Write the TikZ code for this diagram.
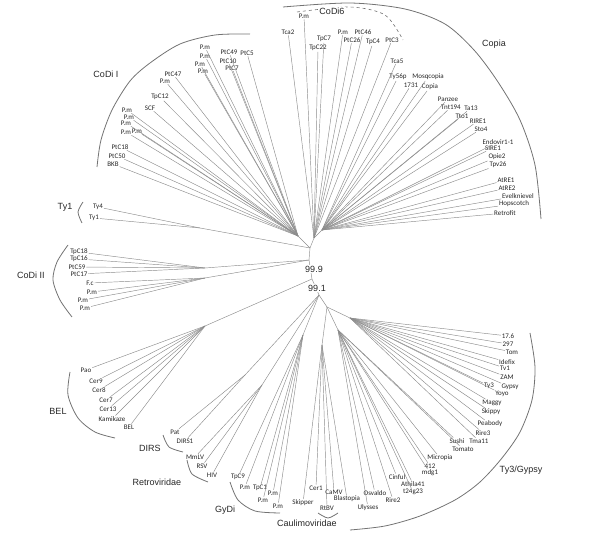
\documentclass[tikz,border=0pt]{standalone}
\usepackage{fontspec}
\setmainfont{Carlito}
\newfontfamily\cladefont{Liberation Sans}
\begin{document}
\begin{tikzpicture}[x=1pt,y=-1pt,
  leaf/.style={font=\fontsize{7}{8}\selectfont, inner sep=0.8pt, text=black!85},
  br/.style={draw=black!45, line width=0.45pt},
  clade/.style={font=\cladefont\fontsize{9}{10}\selectfont, inner sep=1pt, text=black!85},
  arcline/.style={draw=black!55, line width=0.8pt},
  boot/.style={font=\cladefont\fontsize{9}{10}\selectfont, fill=white, inner sep=0.5pt, text=black!85}]
\useasboundingbox (0,0) rectangle (600,534);
% backbone and hubs
\coordinate (N1) at (310,248);
\coordinate (N2) at (309,260);
\coordinate (N3) at (312,279);
\coordinate (N4) at (319,295);
\coordinate (N5) at (327,307);
\coordinate (h6) at (314,238);
\coordinate (hc) at (322,230);
\coordinate (h1) at (298,236);
\coordinate (ht) at (200,228);
\coordinate (hd1) at (205,268);
\coordinate (hd2) at (205,278);
\coordinate (hb) at (205,326);
\coordinate (hf) at (245,375);
\coordinate (hg) at (262,385);
\coordinate (hk) at (303,335);
\coordinate (hm) at (322,345);
\coordinate (h3) at (350,318);
\coordinate (h3b) at (338,330);
% leaves
\foreach \n/\x/\y/\t in {a1/304/16/P.m, a2/288/32/Tca2, a3/324/39/TpC7, a4/318/48/TpC22, a5/343/32/P.m, a6/363/32/PtC46, a7/352/40/PtC26, a8/373/42/TpC4, a9/392/40/PtC3}
  {\node[leaf] (\n) at (\x,\y) {\t};}
\foreach \n/\x/\y/\t in {b1/397/61/Tca5, b2/398/77/Ty56p, b3/428/77/Mosqcopia, b4/411/85/1731, b5/430/87/Copia, b6/448/99/Panzee, b7/451/107/Tnt194, b8/471/108/Ta13, b9/462/116/Tto1, b10/478/121/RIRE1, b11/481/129/Sto4, b12/498/142/Endovir1-1, b13/493/148/SIRE1, b14/497/157/Opie2, b15/498/165/Tpv26, b16/506/180/AtRE1, b17/507/188/AtRE2, b18/518/196/Evelknievel, b19/514/204/Hopscotch, b20/505/213/Retrofit}
  {\node[leaf] (\n) at (\x,\y) {\t};}
\foreach \n/\x/\y/\t in {c1/205/47/P.m, c2/205/56/P.m, c3/200/64/P.m, c4/203/71/P.m, c5/229/52/PtC49, c6/228/61/PtC10, c7/232/68/PtC7, c8/247/53/PtC5, c9/173/74/PtC47, c10/165/81/P.m, c11/160/97/TpC12, c12/150/108/SCF, c13/127/110/P.m, c14/129/117/P.m, c15/126/123/P.m, c16/126/132/P.m, c17/137/131/P.m, c18/120/147/PtC18, c19/117/156/PtC50, c20/113/164/BKB}
  {\node[leaf] (\n) at (\x,\y) {\t};}
\foreach \n/\x/\y/\t in {t1/98/207/Ty4, t2/94/218/Ty1, d1/79/252/TpC18, d2/79/259/TpC16, d3/77/267/PtC59, d4/79/274/PtC17, d5/90/283/F.c, d6/92/292/P.m, d7/83/300/P.m, d8/85/308/P.m}
  {\node[leaf] (\n) at (\x,\y) {\t};}
\foreach \n/\x/\y/\t in {e1/86/370/Pao, e2/96/381/Cer9, e3/99/390/Cer8, e4/106/400/Cer7, e5/108/409/Cer13, e6/112/419/Kamikaze, e7/129/427/BEL, f1/175/432/Pat, f2/185/441/DIRS1, g1/195/457/MmLV, g2/202/466/RSV, g3/212/475/HIV}
  {\node[leaf] (\n) at (\x,\y) {\t};}
\foreach \n/\x/\y/\t in {k1/238/477/TpC9, k2/245/487/P.m, k3/260/488/TpC1, k4/273/493/P.m, k5/263/500/P.m, k6/278/506/P.m, m1/303/503/Skipper, m2/316/488/Cer1, m3/334/492/CaMV, m4/347/499/Blastopia, m5/327/508/RtBV}
  {\node[leaf] (\n) at (\x,\y) {\t};}
\foreach \n/\x/\y/\t in {n1/508/336/17.6, n2/508/344/297, n3/512/352/Tom, n4/507/362/Idefix, n5/505/368/Tv1, n6/507/377/ZAM, n7/489/386/Ty3, n8/510/387/Gypsy, n9/502/394/Yoyo, n10/492/403/Maggy, n11/491/412/Skippy, n12/490/424/Peabody, n13/483/433/Rire3, n14/457/441/Sushi, n15/479/441/Tma11, n16/463/449/Tomato, n17/440/458/Micropia, n18/430/466/412, n19/430/473/mdg1, n20/397/477/Cinful, n21/413/484/Athila41, n22/413/492/t24g23, n23/375/493/Osvaldo, n24/393/500/Rire2, n25/368/508/Ulysses}
  {\node[leaf] (\n) at (\x,\y) {\t};}
% branches
\foreach \n in {a1,a2,a3,a4,a5,a6,a7,a8,a9} \draw[br] (\n) -- (h6);
\foreach \n in {b1,b2,b3,b4,b5,b6,b7,b8,b9,b10,b11,b12,b13,b14,b15,b16,b17,b18,b19,b20} \draw[br] (\n) -- (hc);
\foreach \n in {c1,c2,c3,c4,c5,c6,c7,c8,c9,c10,c11,c12,c13,c14,c15,c16,c17,c18,c19,c20} \draw[br] (\n) -- (h1);
\foreach \n in {t1,t2} \draw[br] (\n) -- (ht);
\foreach \n in {d1,d2,d3,d4} \draw[br] (\n) -- (hd1);
\foreach \n in {d5,d6,d7,d8} \draw[br] (\n) -- (hd2);
\foreach \n in {e1,e2,e3,e4,e5,e6,e7} \draw[br] (\n) -- (hb);
\foreach \n in {f1,f2} \draw[br] (\n) -- (hf);
\foreach \n in {g1,g2,g3} \draw[br] (\n) -- (hg);
\foreach \n in {k1,k2,k3,k4,k5,k6} \draw[br] (\n) -- (hk);
\foreach \n in {m1,m2,m3,m4,m5} \draw[br] (\n) -- (hm);
\foreach \n in {n1,n2,n3,n4,n5,n6,n7,n8,n9,n10,n11,n12,n13,n15} \draw[br] (\n) -- (h3);
\foreach \n in {n14,n16,n17,n18,n19,n20,n21,n22,n23,n24,n25} \draw[br] (\n) -- (h3b);
\draw[br] (hc) -- (h6) -- (N1);
\draw[br] (h1) -- (N1);
\draw[br] (ht) -- (N1);
\draw[br] (hd1) -- (N2);
\draw[br] (hd2) -- (N2);
\draw[br] (hb) -- (N3);
\foreach \h in {hf,hg,hk} \draw[br] (\h) -- (N4);
\foreach \h in {hm,h3,h3b} \draw[br] (\h) -- (N5);
\draw[br] (N1) -- (N2) -- (N3) -- (N4) -- (N5);
% clade arcs
\draw[arcline] plot[smooth] coordinates {(283,7) (350,3) (405,9) (445,24) (474,50) (498,82) (520,120) (535,165) (541,219)};
\draw[arcline, dashed, line width=0.6pt] plot[smooth] coordinates {(297,12) (350,7) (385,15) (403,40)};
\draw[arcline] plot[smooth] coordinates {(250,34) (215,35) (180,44) (150,63) (130,81) (112,110) (101,140) (97,167)};
\draw[arcline] plot[smooth] coordinates {(83,202) (78,212) (82,223)};
\draw[arcline] plot[smooth] coordinates {(68,245) (57,262) (53,280) (60,300) (72,317)};
\draw[arcline] plot[smooth] coordinates {(70,372) (68,395) (78,418) (95,432) (115,438)};
\draw[arcline] plot[smooth] coordinates {(163,435) (169,447) (183,452)};
\draw[arcline] plot[smooth] coordinates {(187,460) (192,474) (208,482)};
\draw[arcline] plot[smooth] coordinates {(230,482) (238,500) (255,511) (280,513)};
\draw[arcline] plot[smooth] coordinates {(318,513) (328,518) (338,513)};
\draw[arcline] plot[smooth] coordinates {(530,333) (535,367) (532,400) (520,432) (502,458) (480,482) (455,500) (420,516) (385,526) (350,530)};
% clade labels
\node[clade, fill=white] (lcodi6) at (332,11) {CoDi6};
\node[clade] (lcopia) at (494,44) {Copia};
\node[clade] (lcodi1) at (106,74) {CoDi I};
\node[clade] (lty1) at (65,207) {Ty1};
\node[clade] (lcodi2) at (31,275) {CoDi II};
\node[clade] (lbel) at (58,411) {BEL};
\node[clade] (ldirs) at (150,448) {DIRS};
\node[clade] (lretro) at (157,482) {Retroviridae};
\node[clade] (lgydi) at (225,510) {GyDi};
\node[clade] (lcaul) at (307,523) {Caulimoviridae};
\node[clade] (lty3) at (521,470) {Ty3/Gypsy};
% bootstrap values
\node[boot] (b999) at (314,269) {99.9};
\node[boot] (b991) at (317,288) {99.1};
\end{tikzpicture}
\end{document}
